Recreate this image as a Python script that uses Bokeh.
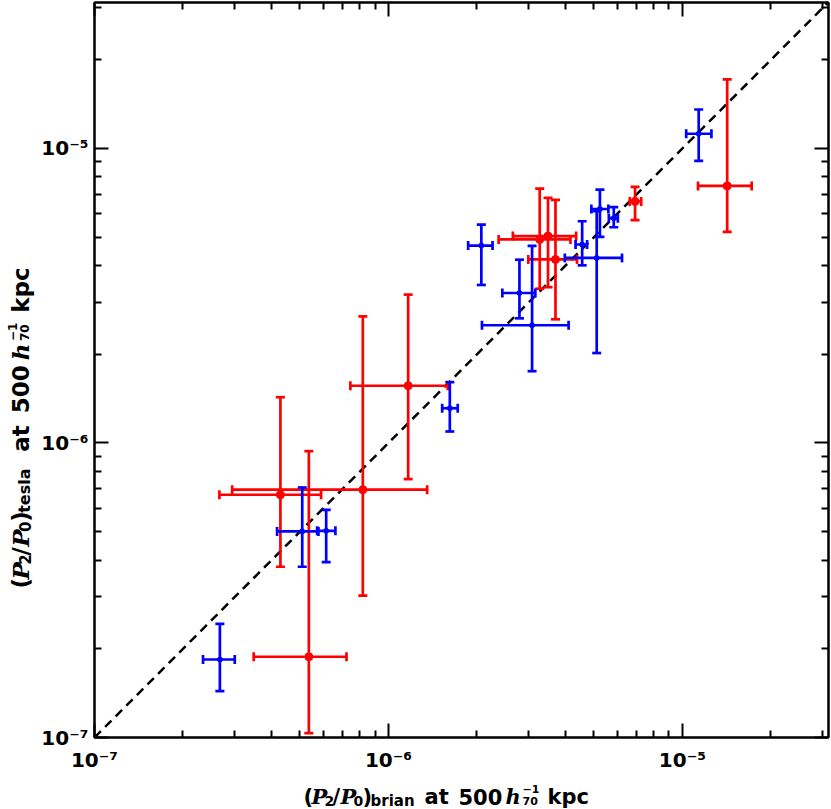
import math
from bokeh.plotting import figure
from bokeh.layouts import row, column
from bokeh.models import (ColumnDataSource, Whisker, TeeHead, LogAxis, FixedTicker,
                          CustomJSTickFormatter, Range1d)
from bokeh.embed import file_html
from bokeh.resources import INLINE

# ---- data ----
red_x   = [1.42e-5, 6.90e-6, 3.27e-6, 3.49e-6, 3.70e-6, 1.167e-6, 8.18e-7, 4.29e-7, 5.36e-7]
red_xlo = [1.13e-5, 6.62e-6, 2.37e-6, 2.65e-6, 2.99e-6, 7.42e-7, 2.94e-7, 2.66e-7, 3.48e-7]
red_xhi = [1.72e-5, 7.24e-6, 4.16e-6, 4.35e-6, 4.38e-6, 1.59e-6, 1.354e-6, 5.90e-7, 7.20e-7]
red_y   = [7.46e-6, 6.61e-6, 4.91e-6, 5.04e-6, 4.20e-6, 1.564e-6, 6.94e-7, 6.67e-7, 1.88e-7]
red_ylo = [5.21e-6, 5.71e-6, 3.34e-6, 3.38e-6, 2.63e-6, 7.54e-7, 3.03e-7, 3.80e-7, 1.034e-7]
red_yhi = [1.715e-5, 7.41e-6, 7.30e-6, 6.80e-6, 6.69e-6, 3.19e-6, 2.69e-6, 1.43e-6, 9.38e-7]

blue_x   = [1.136e-5, 5.84e-6, 2.07e-6, 2.79e-6, 3.08e-6, 4.56e-6, 5.11e-6, 5.24e-6, 1.617e-6, 5.09e-7, 6.14e-7, 2.67e-7]
blue_xlo = [1.03e-5, 5.62e-6, 1.867e-6, 2.44e-6, 2.08e-6, 4.33e-6, 3.98e-6, 4.90e-6, 1.523e-6, 4.18e-7, 5.72e-7, 2.34e-7]
blue_xhi = [1.255e-5, 6.03e-6, 2.26e-6, 3.16e-6, 4.10e-6, 4.74e-6, 6.23e-6, 5.60e-6, 1.72e-6, 5.78e-7, 6.60e-7, 3.00e-7]
blue_y   = [1.122e-5, 5.80e-6, 4.68e-6, 3.23e-6, 2.51e-6, 4.72e-6, 4.25e-6, 6.23e-6, 1.312e-6, 5.01e-7, 5.03e-7, 1.84e-7]
blue_ylo = [9.08e-6, 5.40e-6, 3.44e-6, 2.65e-6, 1.753e-6, 4.01e-6, 2.02e-6, 5.01e-6, 1.094e-6, 3.80e-7, 3.94e-7, 1.436e-7]
blue_yhi = [1.356e-5, 6.32e-6, 5.51e-6, 4.19e-6, 4.67e-6, 5.66e-6, 6.12e-6, 7.25e-6, 1.609e-6, 7.06e-7, 5.93e-7, 2.43e-7]

diag = [1e-7, 3.14e-5]
major_ticks = [1e-7, 1e-6, 1e-5]
minor_ticks = [2e-7, 3e-7, 4e-7, 5e-7, 6e-7, 7e-7, 8e-7, 9e-7,
               2e-6, 3e-6, 4e-6, 5e-6, 6e-6, 7e-6, 8e-6, 9e-6,
               2e-5, 3e-5]

x_title_sub = "brian"
y_title_sub = "tesla"

YLAB_W = 36          # width of the strip holding the y title
MAIN_W = 794
MAIN_H = 775
XLAB_H = 33          # height of the strip holding the x title
TOTAL_H = MAIN_H + XLAB_H

# ---- main figure ----
p = figure(width=MAIN_W, height=MAIN_H, x_axis_type="log", y_axis_type="log",
           x_range=(1e-7, 3.14e-5), y_range=(1e-7, 3.13e-5),
           output_backend="svg", toolbar_location=None,
           min_border_left=58, min_border_right=2, min_border_top=2, min_border_bottom=38)
p.grid.visible = False
p.outline_line_color = "black"
p.outline_line_width = 2
p.background_fill_color = "white"
p.border_fill_color = "white"

sup_code = """
const e = Math.round(Math.log10(tick));
const sup = {"-":"\u207b","0":"\u2070","1":"\u00b9","2":"\u00b2","3":"\u00b3","4":"\u2074","5":"\u2075","6":"\u2076","7":"\u2077","8":"\u2078","9":"\u2079"};
return "10" + String(e).split("").map(c => sup[c]).join("");
"""

def style_axis(ax, labels=True):
    ax.ticker = FixedTicker(ticks=major_ticks, minor_ticks=minor_ticks)
    ax.axis_line_width = 2
    ax.axis_line_color = "black"
    ax.major_tick_line_width = 2
    ax.minor_tick_line_width = 2
    ax.major_tick_line_color = "black"
    ax.minor_tick_line_color = "black"
    ax.major_tick_in = 14
    ax.major_tick_out = 0
    ax.minor_tick_in = 7
    ax.minor_tick_out = 0
    if labels:
        ax.formatter = CustomJSTickFormatter(code=sup_code)
        ax.major_label_text_font = "DejaVu Sans"
        ax.major_label_text_font_style = "bold"
        ax.major_label_text_font_size = "20px"
        ax.major_label_text_color = "black"
    else:
        ax.formatter = CustomJSTickFormatter(code="return '';")
        ax.major_label_text_font_size = "0px"
        ax.major_label_standoff = 0

style_axis(p.xaxis[0])
p.xaxis[0].major_label_standoff = 10
style_axis(p.yaxis[0])
p.yaxis[0].major_label_standoff = 6

top = LogAxis()
style_axis(top, labels=False)
p.add_layout(top, "above")
right = LogAxis()
style_axis(right, labels=False)
p.add_layout(right, "right")

# ---- diagonal ----
p.line(diag, diag, line_color="black", line_width=2.5, line_dash="9 6")

# ---- error bars + points ----
def add_series(xs, xlo, xhi, ys, ylo, yhi, color, msize):
    src = ColumnDataSource(dict(x=xs, xlo=xlo, xhi=xhi, y=ys, ylo=ylo, yhi=yhi))
    for dim, base, lo, hi in [("height", "x", "ylo", "yhi"), ("width", "y", "xlo", "xhi")]:
        p.add_layout(Whisker(source=src, base=base, lower=lo, upper=hi, dimension=dim,
                             line_color=color, line_width=2.7, level="glyph",
                             lower_head=TeeHead(size=9, line_color=color, line_width=2.7),
                             upper_head=TeeHead(size=9, line_color=color, line_width=2.7)))
    p.scatter("x", "y", source=src, size=msize, color=color, line_color=color)

add_series(red_x, red_xlo, red_xhi, red_y, red_ylo, red_yhi, "#ff0000", 8)
add_series(blue_x, blue_xlo, blue_xhi, blue_y, blue_ylo, blue_yhi, "#0000ff", 5)

# ---- axis titles built from pieces (italic P/h, sub/superscripts) ----
SANS = "DejaVu Sans"
SERIF = "DejaVu Serif"
def pieces(sub, k=1.0, big=21):
    # text, offset along the title, shift below baseline, size, font, style
    sm = lambda v: int(round(v * big / 21))
    return [
        ("(", 0, 0, big, SANS, "bold"),
        ("P", 8 * k, 0, big, SERIF, "bold italic"),
        ("2", 21 * k, 4, sm(14), SANS, "bold"),
        ("/", 29 * k, 0, big, SANS, "bold"),
        ("P", 37 * k, 0, big, SERIF, "bold italic"),
        ("0", 50 * k, 4, sm(14), SANS, "bold"),
        (")", 59 * k, 0, big, SANS, "bold"),
        (sub, 67 * k, 4, sm(15), SANS, "bold"),
        ("at", 121 * k, 0, big, SANS, "bold"),
        ("500", 155 * k, 0, big, SANS, "bold"),
        ("h", 202 * k, 0, big, SERIF, "bold italic"),
        ("\u22121", 219 * k, -8, sm(11), SANS, "bold"),
        ("70", 219 * k, 4, sm(11), SANS, "bold"),
        ("kpc", 244 * k, 0, big, SANS, "bold"),
    ]

def strip(w, h):
    f = figure(width=w, height=h, x_range=Range1d(0, w), y_range=Range1d(0, h),
               output_backend="svg", toolbar_location=None,
               x_axis_location=None, y_axis_location=None,
               min_border=0, min_border_left=0, min_border_right=0,
               min_border_top=0, min_border_bottom=0)
    f.frame_align = False
    f.grid.visible = False
    f.outline_line_color = None
    f.background_fill_color = "white"
    f.border_fill_color = "white"
    return f

def title_source(pc, xfun, yfun):
    return ColumnDataSource(dict(
        x=[xfun(o, s) for _, o, s, _, _, _ in pc],
        y=[yfun(o, s) for _, o, s, _, _, _ in pc],
        text=[t for t, *_ in pc],
        size=[f"{sz}px" for _, _, _, sz, _, _ in pc],
        font=[fn for *_, fn, _ in pc],
        style=[st for *_, st in pc],
    ))

# x title strip: title starts at page x 303, baseline page y 796
xfig = strip(MAIN_W, XLAB_H)
xsrc = title_source(pieces(x_title_sub),
                    lambda o, s: 303 + o - YLAB_W,
                    lambda o, s: TOTAL_H - (796 + s))
xfig.text("x", "y", text="text", source=xsrc, text_font="font", text_font_style="style",
          text_font_size="size", text_color="black", text_align="left",
          text_baseline="alphabetic")

# y title strip: rotated title starts at page y 588, baseline page x 20
yfig = strip(YLAB_W, TOTAL_H)
ysrc = title_source(pieces(y_title_sub, k=1.13, big=23),
                    lambda o, s: 20 + s,
                    lambda o, s: TOTAL_H - (588 - o))
yfig.text("x", "y", text="text", source=ysrc, text_font="font", text_font_style="style",
          text_font_size="size", text_color="black", text_align="left",
          text_baseline="alphabetic", angle=math.pi / 2)

layout = row(yfig, column(p, xfig))

with open("out.html", "w", encoding="utf-8") as f:
    f.write(file_html(layout, INLINE))
